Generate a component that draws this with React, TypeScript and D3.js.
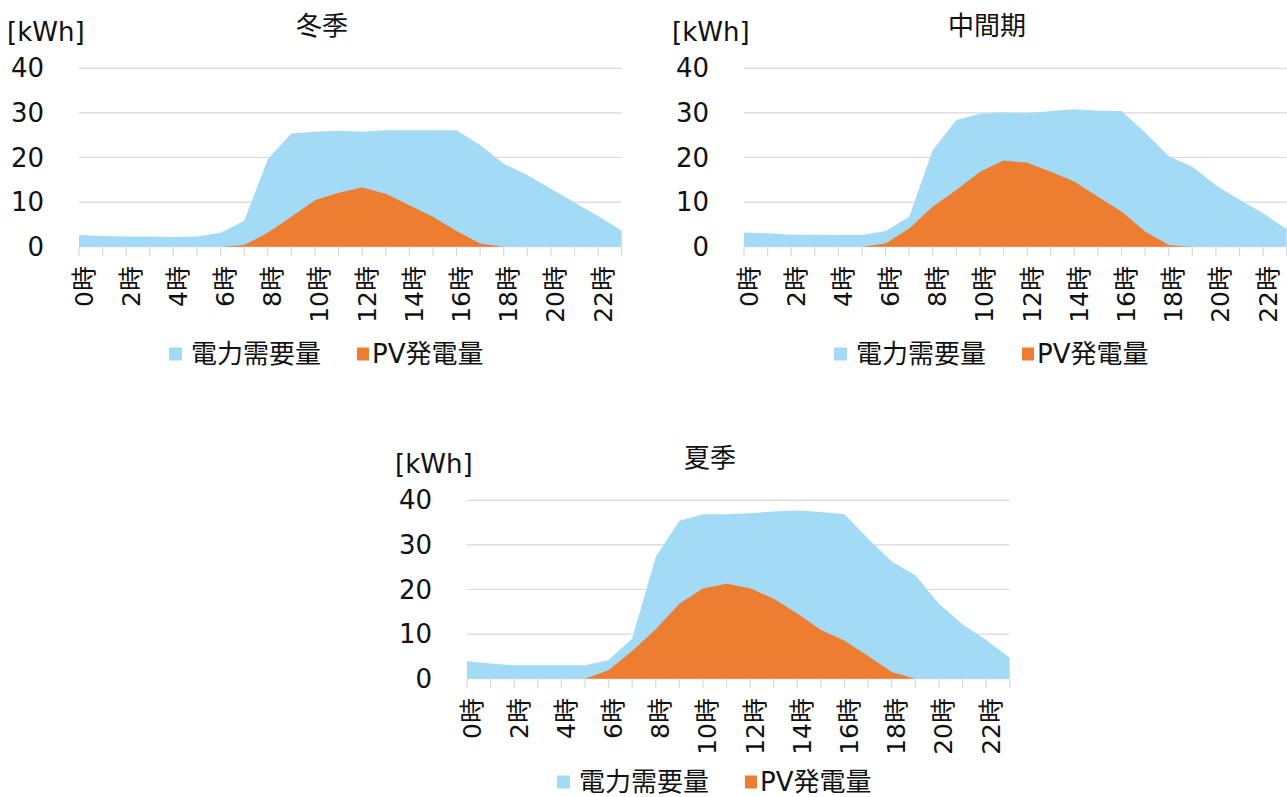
import React from 'react';
import * as d3 from 'd3';

// hourly categories
const hours = ['0時', '1時', '2時', '3時', '4時', '5時', '6時', '7時', '8時', '9時', '10時', '11時',
  '12時', '13時', '14時', '15時', '16時', '17時', '18時', '19時', '20時', '21時', '22時', '23時'];
const yTicks = [0, 10, 20, 30, 40];

// winter
const winterDemand = [2.6, 2.4, 2.3, 2.3, 2.2, 2.3, 3.1, 5.8, 19.6, 25.4, 25.8, 26.0, 25.8, 26.1, 26.1, 26.1, 26.1, 22.8, 18.6, 16.1, 13.0, 9.9, 6.9, 3.6];
const winterPV = [0, 0, 0, 0, 0, 0, 0, 0.4, 3.1, 6.7, 10.4, 12.1, 13.3, 11.9, 9.3, 6.7, 3.5, 0.7, 0, 0, 0, 0, 0, 0];

// mid season
const midDemand = [3.2, 3.0, 2.7, 2.7, 2.6, 2.6, 3.5, 6.7, 21.7, 28.4, 29.8, 30.1, 29.9, 30.4, 30.8, 30.5, 30.4, 25.6, 20.3, 17.9, 13.8, 10.5, 7.5, 3.9];
const midPV = [0, 0, 0, 0, 0, 0, 0.7, 4.1, 9.0, 12.7, 16.8, 19.3, 18.8, 16.8, 14.6, 11.2, 7.9, 3.4, 0.4, 0, 0, 0, 0, 0];

// summer
const summerDemand = [3.9, 3.4, 3.0, 3.0, 3.0, 3.0, 4.2, 9.0, 27.3, 35.4, 36.9, 36.9, 37.1, 37.5, 37.7, 37.4, 36.9, 31.4, 26.3, 23.2, 16.8, 12.2, 8.7, 4.7];
const summerPV = [0, 0, 0, 0, 0, 0, 1.9, 6.2, 11.1, 16.8, 20.2, 21.3, 20.3, 17.9, 14.6, 10.9, 8.5, 5.1, 1.5, 0, 0, 0, 0, 0];

const BLUE = '#a3dbf7';
const ORANGE = '#ed7d31';
const GRID = '#d9d9d9';
const FONT = '"DejaVu Sans", "Noto Sans CJK JP", sans-serif';
const TEXT = '#111';

interface PanelProps {
  dx: number;
  dy: number;
  title: string;
  demand: number[];
  pv: number[];
  legendY?: number;
}

const Panel: React.FC<PanelProps> = ({ dx, dy, title, demand, pv, legendY = 354 }) => {
  const x = d3.scalePoint<string>().domain(hours).range([79, 621.7]);
  const y = d3.scaleLinear().domain([0, 40]).range([246.7, 68.3]);

  const area = d3
    .area<number>()
    .x((_, i) => x(hours[i]) ?? 0)
    .y0(y(0))
    .y1((d) => y(d));

  return (
    <g transform={`translate(${dx},${dy})`} fontFamily={FONT} fill={TEXT}>
      <text x={322} y={35} fontSize={26} textAnchor="middle">{title}</text>
      <text x={7} y={41} fontSize={26}>[kWh]</text>

      {yTicks.map((t) => (
        <g key={t}>
          <line x1={79} x2={621.7} y1={y(t)} y2={y(t)} stroke={GRID} strokeWidth={1.2} />
          <text x={44} y={y(t)} fontSize={26} textAnchor="end" dominantBaseline="central">{t}</text>
        </g>
      ))}

      <path d={area(demand) ?? ''} fill={BLUE} />
      <path d={area(pv) ?? ''} fill={ORANGE} />

      {hours.map((h) => (
        <line key={h} x1={x(h)} x2={x(h)} y1={y(0)} y2={y(0) + 9} stroke={GRID} strokeWidth={1.2} />
      ))}
      {hours.map((h, i) =>
        i % 2 === 0 ? (
          <text
            key={h}
            transform={`translate(${(x(h) ?? 0) + 5},266) rotate(-90)`}
            fontSize={25}
            textAnchor="end"
            dominantBaseline="central"
          >
            {h}
          </text>
        ) : null
      )}

      <g transform={`translate(169,${legendY})`}>
        <rect x={0} y={-6.5} width={13} height={13} fill={BLUE} />
        <text x={22} y={0} fontSize={26} dominantBaseline="central">電力需要量</text>
        <rect x={188} y={-6.5} width={12} height={13} fill={ORANGE} />
        <text x={203} y={0} fontSize={26} dominantBaseline="central">PV発電量</text>
      </g>
    </g>
  );
};

const App: React.FC = () => {
  return (
    <svg
      width={1287}
      height={797}
      style={{ position: 'absolute', left: 0, top: 0, background: '#fff' }}
    >
      <Panel dx={0} dy={0} title="冬季" demand={winterDemand} pv={winterPV} />
      <Panel dx={665} dy={0} title="中間期" demand={midDemand} pv={midPV} />
      <Panel dx={388} dy={432} title="夏季" demand={summerDemand} pv={summerPV} legendY={350} />
    </svg>
  );
};

export default App;
